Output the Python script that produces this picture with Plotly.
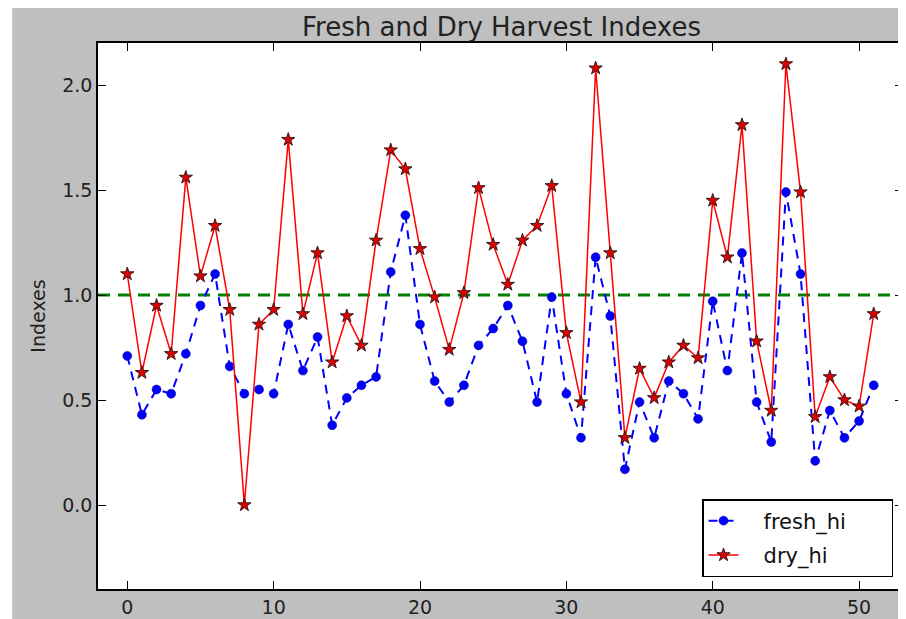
import plotly.graph_objects as go

x_index = list(range(52))
fresh_hi = [0.71, 0.43, 0.55, 0.53, 0.72, 0.95, 1.10, 0.66, 0.53, 0.55,
            0.53, 0.86, 0.64, 0.80, 0.38, 0.51, 0.57, 0.61, 1.11, 1.38,
            0.86, 0.59, 0.49, 0.57, 0.76, 0.84, 0.95, 0.78, 0.49, 0.99,
            0.53, 0.32, 1.18, 0.90, 0.17, 0.49, 0.32, 0.59, 0.53, 0.41,
            0.97, 0.64, 1.20, 0.49, 0.30, 1.49, 1.10, 0.21, 0.45, 0.32,
            0.40, 0.57]
dry_hi = [1.10, 0.63, 0.95, 0.72, 1.56, 1.09, 1.33, 0.93, 0.00, 0.86,
          0.93, 1.74, 0.91, 1.20, 0.68, 0.90, 0.76, 1.26, 1.69, 1.60,
          1.22, 0.99, 0.74, 1.01, 1.51, 1.24, 1.05, 1.26, 1.33, 1.52,
          0.82, 0.49, 2.08, 1.20, 0.32, 0.65, 0.51, 0.68, 0.76, 0.70,
          1.45, 1.18, 1.81, 0.78, 0.45, 2.10, 1.49, 0.42, 0.61, 0.50,
          0.47, 0.91]
threshold = 1.0
x_ticks = [0, 10, 20, 30, 40, 50]
y_ticks = [0.0, 0.5, 1.0, 1.5, 2.0]

FONT = "DejaVu Sans"
# page body has an 8px margin, so the figure is placed at (8, 8)
W, H = 898, 611
L, R, T, B = 90, 1, 35, 29
pw, ph = W - L - R, H - T - B
NB = "\u00a0"

fig = go.Figure()
fig.add_trace(go.Scatter(
    x=x_index, y=fresh_hi, name=NB * 3 + "fresh_hi" + NB * 6, mode="lines+markers",
    legendgroup="f",
    line=dict(color="#0000ff", width=2, dash="9px,7px"),
    marker=dict(symbol="circle", size=9, color="#0000ff",
                line=dict(color="#000080", width=0.5)),
))
fig.add_trace(go.Scatter(
    x=x_index, y=dry_hi, name=NB * 3 + "dry_hi", mode="lines+markers",
    legendgroup="d",
    line=dict(color="#ff0000", width=1.5),
    marker=dict(symbol="star", size=10, color="#dd0000",
                line=dict(color="#3a1a1a", width=1)),
))

# green threshold line
fig.add_shape(type="line", xref="paper", x0=0, x1=1, yref="y",
              y0=threshold, y1=threshold, layer="below",
              line=dict(color="#008000", width=3, dash="12px,8px"))

# thin white strip at the left edge of the image
fig.add_shape(type="rect", xref="paper", yref="paper",
              x0=-L / pw - 0.05, x1=(4 - L) / pw, y0=-B / ph - 0.05, y1=1 + T / ph + 0.05,
              fillcolor="white", line=dict(width=0), layer="below")

axis_common = dict(
    showgrid=False, zeroline=False, showline=True, linecolor="black",
    linewidth=1.5, mirror="ticks", ticks="inside", ticklen=8,
    tickcolor="black", tickwidth=1,
    tickfont=dict(family=FONT, size=19, color="#222222"),
)
fig.update_xaxes(range=[-2, 53], tickvals=x_ticks, **axis_common)
fig.update_yaxes(range=[-0.4, 2.2], tickvals=y_ticks, tickformat=".1f",
                 title=dict(text="Indexes", standoff=12,
                            font=dict(family=FONT, size=19, color="#222222")),
                 **axis_common)

fig.update_layout(
    width=W, height=H,
    margin=dict(l=L, r=R, t=T, b=B),
    paper_bgcolor="#bfbfbf", plot_bgcolor="white",
    font=dict(family=FONT, color="#222222"),
    title=dict(text="Fresh and Dry Harvest Indexes", x=(L + pw / 2) / W,
               xanchor="center", y=1 - 19 / H, yanchor="middle",
               font=dict(family=FONT, size=26, color="#222222")),
    showlegend=True,
    legend=dict(x=(887 - L) / pw, xanchor="right", y=(582 - 570) / ph, yanchor="bottom",
                bgcolor="white", bordercolor="black", borderwidth=1.5,
                font=dict(family=FONT, size=21, color="#111111"),
                tracegroupgap=4),
)

fig.write_html("out.html")
